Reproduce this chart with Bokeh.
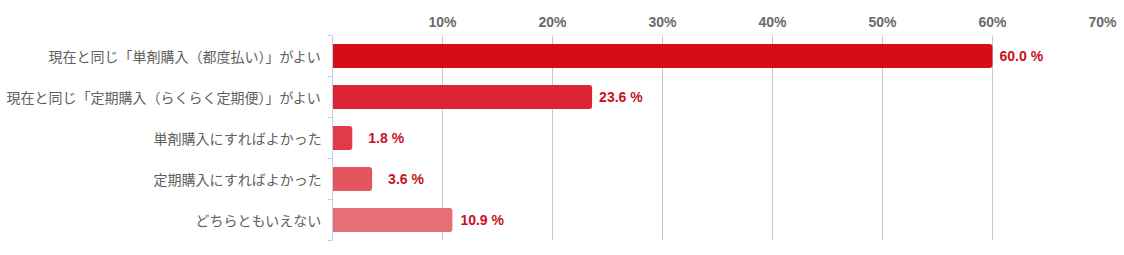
from bokeh.plotting import figure
from bokeh.models import ColumnDataSource, Range1d, LinearAxis, FixedTicker
from bokeh.core.properties import value
from bokeh.embed import file_html
from bokeh.resources import INLINE

categories = [
    "現在と同じ「単剤購入（都度払い）」がよい",
    "現在と同じ「定期購入（らくらく定期便）」がよい",
    "単剤購入にすればよかった",
    "定期購入にすればよかった",
    "どちらともいえない",
]
values = [60.0, 23.6, 1.8, 3.6, 10.9]
value_labels = ["60.0 %", "23.6 %", "1.8 %", "3.6 %", "10.9 %"]
x_ticks = [10, 20, 30, 40, 50, 60, 70]
x_tick_labels = ["10%", "20%", "30%", "40%", "50%", "60%", "70%"]

# styles
bar_colors = ["#D60C18", "#DC2533", "#E03B47", "#E4555F", "#E86F77"]
label_offsets = [7, 7, 16, 16, 8]

n = len(categories)
centers = [i + 0.5 for i in range(n)]

src = ColumnDataSource(dict(
    y=centers, v=values, lbl=value_labels, color=bar_colors, xo=label_offsets,
))

p = figure(width=1124, height=255, output_backend="svg", toolbar_location=None,
           x_range=Range1d(0, 70), y_range=Range1d(n, 0),
           x_axis_location="above", y_axis_location=None,
           min_border_left=332, min_border_right=22, min_border_top=35,
           min_border_bottom=15)
p.outline_line_color = None
p.background_fill_color = "white"
p.border_fill_color = "white"

p.hbar(y="y", right="v", left=0, height=0.58, fill_color="color", line_color=None,
       source=src, border_radius=(0, 3, 3, 0))

p.text(x="v", y="y", text="lbl", x_offset="xo", source=src,
       text_baseline="middle", text_align="left",
       text_font=value("Liberation Sans"), text_font_style="bold",
       text_font_size="14px", text_color="#C8101E")

# top x axis
xa = p.xaxis[0]
xa.ticker = FixedTicker(ticks=x_ticks)
xa.major_label_overrides = {t: l for t, l in zip(x_ticks, x_tick_labels)}
xa.axis_line_color = None
xa.major_tick_line_color = None
xa.major_tick_out = 0
xa.major_tick_in = 0
xa.minor_tick_line_color = None
xa.minor_tick_out = 0
xa.major_label_standoff = 6
xa.major_label_text_font = "Liberation Sans"
xa.major_label_text_font_style = "bold"
xa.major_label_text_font_size = "14px"
xa.major_label_text_color = "#6A6A6A"

p.xgrid.ticker = FixedTicker(ticks=x_ticks)
p.xgrid.grid_line_color = "#C8C8C8"
p.ygrid.grid_line_color = None

# left category axis with boundary ticks
ya = LinearAxis(ticker=FixedTicker(ticks=centers, minor_ticks=list(range(n + 1))))
ya.major_label_overrides = {c: cat for c, cat in zip(centers, categories)}
ya.axis_line_color = "#C0D0E0"
ya.major_tick_line_color = None
ya.major_tick_out = 0
ya.major_tick_in = 0
ya.minor_tick_line_color = "#C0D0E0"
ya.minor_tick_out = 5
ya.minor_tick_in = 0
ya.major_label_standoff = 6
ya.major_label_text_font = "Noto Sans CJK JP"
ya.major_label_text_font_size = "14px"
ya.major_label_text_color = "#606060"
p.add_layout(ya, "left")

open("out.html", "w").write(file_html(p, INLINE))
